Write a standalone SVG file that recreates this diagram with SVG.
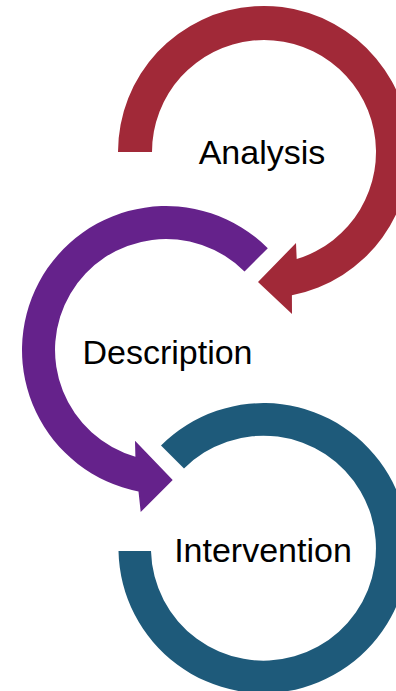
<svg xmlns="http://www.w3.org/2000/svg" width="396" height="691" viewBox="0 0 396 691">
<style>
.lbl{font-family:"Liberation Sans",Arial,sans-serif;font-size:34px;fill:#000;text-anchor:middle}
</style>
<rect width="396" height="691" fill="#fff"/>
<g id="analysis">
<path d="M118,152 A146,146 0 1 1 291.9,295.3 L292,314 L258,282 L296,243 L296.7,259.1 A112,112 0 1 0 152,152 Z" fill="#A12938"/>
<text class="lbl" x="262" y="164">Analysis</text>
</g>
<g id="description">
<path d="M267.8,248.2 A144,144 0 1 0 138.5,491.4 L140.7,512 L172.7,480 L135,440.7 L135.4,456.7 A111,111 0 1 1 244.5,271.5 Z" fill="#65228B"/>
<text class="lbl" x="167.5" y="364">Description</text>
</g>
<g id="intervention">
<path d="M161,445.5 A145,145 0 1 1 118.5,551 L151,551 A112.5,112.5 0 1 0 184,468.5 Z" fill="#1E5A7A"/>
<text class="lbl" x="263" y="562">Intervention</text>
</g>
<g id="connectors"></g>
</svg>
